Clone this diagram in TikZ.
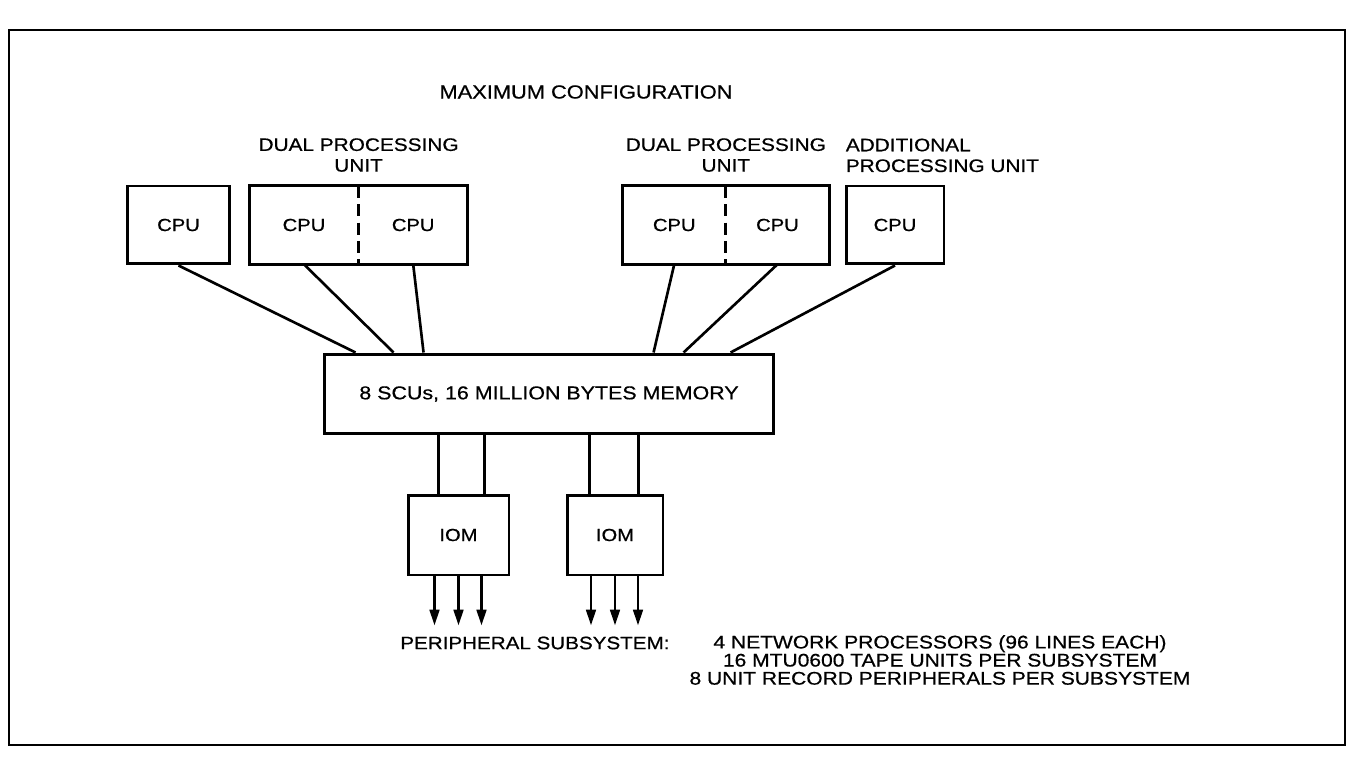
\documentclass[tikz,border=0pt]{standalone}
\usepackage{fontspec}
\setmainfont{Liberation Sans}[FakeStretch=1.15, FakeBold=0.6]
\usetikzlibrary{arrows.meta, positioning, calc, fit}

\begin{document}
\begin{tikzpicture}[
    x=0.02cm, y=-0.02cm,
    >={Triangle[length=9pt,width=5.5pt]},
    unitBox/.style={
        rectangle,
        draw=black,
        line width=1.7pt,
        minimum height=1.56cm,
        inner sep=0pt,
        font=\fontsize{10}{11}\selectfont
    },
    halfCell/.style={
        rectangle,
        minimum height=1.56cm,
        inner sep=0pt,
        font=\fontsize{10}{11}\selectfont
    },
    splitLine/.style={
        line width=1.7pt,
        dash pattern=on 7pt off 3.5pt
    },
    headLabel/.style={
        align=center,
        inner sep=0pt,
        font=\fontsize{10.3}{11.8}\selectfont
    },
    busLine/.style={
        line width=1.5pt
    },
    outArrow/.style={
        ->,
        line width=1.5pt
    }
]
\useasboundingbox (0,0) rectangle (1352,763);

% outer frame
\draw[line width=1.1pt] (9,30) rectangle (1345,745);

\node[headLabel, font=\fontsize{10.8}{12}\selectfont] (title) at (586,92) {MAXIMUM CONFIGURATION};

% single CPU
\node[unitBox, minimum width=2.06cm] (cpuA) at (178.5,225) {CPU};

% left dual processing unit
\node[halfCell, minimum width=2.17cm] (cpuB) at (304,225) {CPU};
\node[halfCell, minimum width=2.17cm, right=0pt of cpuB] (cpuC) {CPU};
\node[unitBox, fit=(cpuB)(cpuC)] (dualA) {};
\draw[splitLine] (cpuB.north east) -- (cpuB.south east);
\node[headLabel, above=0.24cm of dualA] (dualLabelA) {DUAL PROCESSING\\UNIT};

% right dual processing unit
\node[halfCell, minimum width=2.05cm] (cpuD) at (674.25,225) {CPU};
\node[halfCell, minimum width=2.05cm, right=0pt of cpuD] (cpuE) {CPU};
\node[unitBox, fit=(cpuD)(cpuE)] (dualB) {};
\draw[splitLine] (cpuD.north east) -- (cpuD.south east);
\node[headLabel, above=0.24cm of dualB] (dualLabelB) {DUAL PROCESSING\\UNIT};

% additional processing unit
\node[unitBox, minimum width=1.96cm] (cpuF) at (895,225) {CPU};
\node[headLabel, align=left, above right=0.24cm and 0.02cm of cpuF.north west] (addLabel) {ADDITIONAL\\PROCESSING UNIT};

% memory and IOMs
\node[unitBox, minimum width=9cm, minimum height=1.6cm, font=\fontsize{10.6}{12}\selectfont] (mem) at (549,394) {8 SCUs, 16 MILLION BYTES MEMORY};
\node[unitBox, minimum width=2.02cm, minimum height=1.6cm, font=\fontsize{10}{12}\selectfont] (iomA) at (458.5,535) {IOM};
\node[unitBox, minimum width=1.92cm, minimum height=1.6cm, font=\fontsize{10}{12}\selectfont] (iomB) at (615,535) {IOM};

% CPU to memory
\foreach \unit/\dx in {cpuA/33, cpuB/71, cpuC/101, cpuD/331, cpuE/361, cpuF/408}
    \draw[busLine] (\unit.south) -- ($(mem.north west)+(\dx,0)$);

% memory to IOM
\foreach \io/\dx in {iomA/32, iomA/78, iomB/24, iomB/73} {
    \coordinate (tap) at ($(\io.north west)+(\dx,0)$);
    \draw[busLine] (tap) -- (tap |- mem.south);
}

% IOM outputs
\foreach \io in {iomA, iomB}
    \foreach \dx in {-24, 0, 23}
        \draw[outArrow] ($(\io.south)+(\dx,0)$) -- ++(0,49);

\node[anchor=west, inner sep=0pt, font=\fontsize{10.2}{12}\selectfont] (periph) at (400,643) {PERIPHERAL SUBSYSTEM:};
\node[align=center, inner sep=0pt, font=\fontsize{10.4}{10.3}\selectfont] (periphList) at (940,660) {4 NETWORK PROCESSORS (96 LINES EACH)\\16 MTU0600 TAPE UNITS PER SUBSYSTEM\\8 UNIT RECORD PERIPHERALS PER SUBSYSTEM};

\end{tikzpicture}
\end{document}
